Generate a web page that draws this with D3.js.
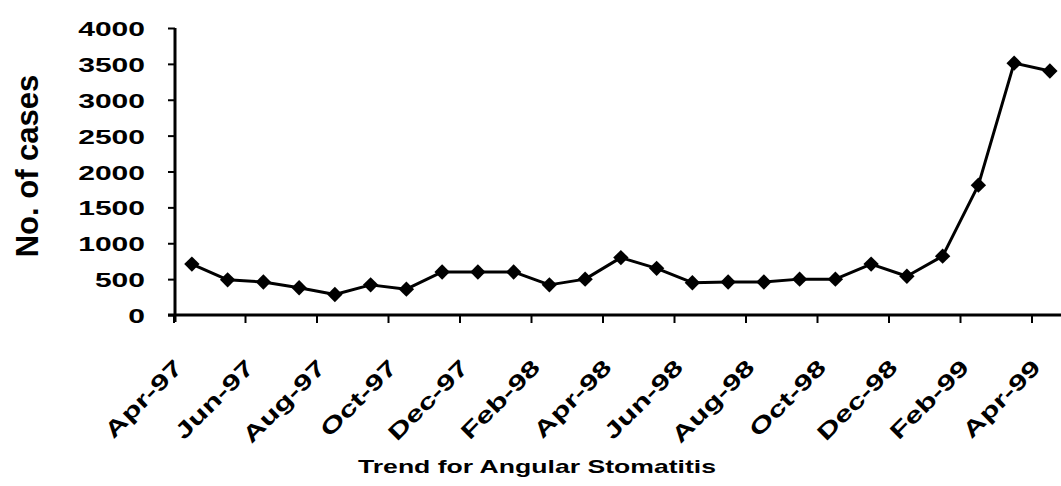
<!DOCTYPE html>
<html>
<head>
<meta charset="utf-8">
<script src="https://cdnjs.cloudflare.com/ajax/libs/d3/7.8.5/d3.min.js"></script>
<style>
  body { margin: 0; background: #fff; }
  text { font-family: "Liberation Sans", Arial, sans-serif; font-weight: bold; fill: #000; }
</style>
</head>
<body>
<script>
// months shown on the category axis (one point per month)
var months = ['Apr-97','May-97','Jun-97','Jul-97','Aug-97','Sep-97','Oct-97','Nov-97',
              'Dec-97','Jan-98','Feb-98','Mar-98','Apr-98','May-98','Jun-98','Jul-98',
              'Aug-98','Sep-98','Oct-98','Nov-98','Dec-98','Jan-99','Feb-99','Mar-99','Apr-99'];
// number of cases
var cases = [710, 490, 460, 380, 285, 420, 360, 600, 600, 600, 420, 500,
             800, 650, 450, 460, 460, 500, 500, 710, 540, 820, 1810, 3510, 3400];
var yTicks = [0, 500, 1000, 1500, 2000, 2500, 3000, 3500, 4000];
var labelMonths = months.filter(function(d, i){ return i % 2 === 0; });

var W = 1061, H = 486;
var stretch = 1.43; // text in the picture is drawn wide

var svg = d3.select("body").append("svg")
    .attr("width", W)
    .attr("height", H);

// scales
var x = d3.scaleBand().domain(months).range([174, 174 + 25 * 35.75]);
var y = d3.scaleLinear().domain([0, 4000]).range([315, 28]);

// y axis
var yAxis = d3.axisLeft(y).tickValues(yTicks).tickSize(7).tickFormat(d3.format("d"));
var gy = svg.append("g")
    .attr("transform", "translate(175,0)")
    .call(yAxis);
gy.select(".domain").attr("stroke", "#000").attr("stroke-width", 3)
    .attr("d", "M0," + y(4000) + "V" + (y(0) + 7));
gy.selectAll(".tick line").attr("stroke", "#000").attr("stroke-width", 2);
gy.selectAll(".tick text")
    .attr("x", null)
    .attr("dy", "0.36em")
    .attr("transform", "translate(-30,0) scale(" + stretch + ",1)")
    .style("font-size", "21px")
    .style("font-family", "'Liberation Sans', Arial, sans-serif")
    .style("font-weight", "bold")
    .attr("text-anchor", "end");

// x axis line and ticks (ticks sit between every second month)
svg.append("line")
    .attr("x1", 168).attr("x2", W)
    .attr("y1", y(0)).attr("y2", y(0))
    .attr("stroke", "#000").attr("stroke-width", 3);

svg.append("g").selectAll("line")
    .data(labelMonths)
    .enter()
    .append("line")
    .attr("x1", function(d){ return x(d); })
    .attr("x2", function(d){ return x(d); })
    .attr("y1", y(0))
    .attr("y2", y(0) + 8)
    .attr("stroke", "#000").attr("stroke-width", 2);

// x labels, rotated
svg.append("g").selectAll("text")
    .data(labelMonths)
    .enter()
    .append("text")
    .attr("transform", function(d){
        var px = x(d) + x.bandwidth() / 2 - 8;
        return "translate(" + px + ",369) rotate(-45) scale(" + stretch + ",1)";
    })
    .attr("text-anchor", "end")
    .style("font-size", "22px")
    .text(function(d){ return d; });

// line
var line = d3.line()
    .x(function(d, i){ return x(months[i]) + x.bandwidth() / 2; })
    .y(function(d){ return y(d); });

svg.append("path")
    .datum(cases)
    .attr("d", line)
    .attr("fill", "none")
    .attr("stroke", "#000")
    .attr("stroke-width", 3)
    .attr("stroke-linejoin", "round");

// diamond markers
var diamond = d3.symbol().type(d3.symbolSquare).size(118);
svg.append("g").selectAll("path")
    .data(cases)
    .enter()
    .append("path")
    .attr("d", diamond)
    .attr("transform", function(d, i){
        return "translate(" + (x(months[i]) + x.bandwidth() / 2) + "," + y(d) + ") rotate(45)";
    })
    .attr("fill", "#000");

// axis title
svg.append("text")
    .attr("transform", "translate(38,166) rotate(-90)")
    .attr("text-anchor", "middle")
    .style("font-size", "31px")
    .text("No. of cases");

// chart title
svg.append("text")
    .attr("transform", "translate(537,473) scale(1.4,1)")
    .attr("text-anchor", "middle")
    .style("font-size", "19px")
    .text("Trend for Angular Stomatitis");
</script>
</body>
</html>
